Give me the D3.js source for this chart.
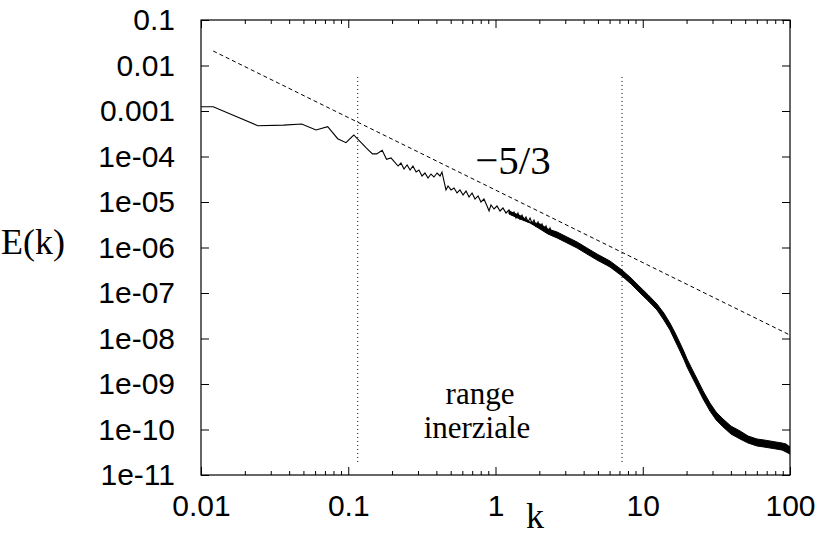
<!DOCTYPE html>
<html>
<head>
<meta charset="utf-8">
<script src="https://cdn.jsdelivr.net/npm/d3@7"></script>
<style>
  body { margin: 0; background: #fff; }
  svg { display: block; }
  .tick text { font-family: "Liberation Sans", Arial, Helvetica, sans-serif; font-size: 30px; fill: #000; }
  .serif { font-family: "Liberation Serif", "Times New Roman", Times, serif; fill: #000; }
</style>
</head>
<body>
<svg width="818" height="543"></svg>
<script>
// tick values / labels
var xTicks = [0.01, 0.1, 1, 10, 100];
var xTickLabels = ["0.01", "0.1", "1", "10", "100"];
var yTicks = [1e-1, 1e-2, 1e-3, 1e-4, 1e-5, 1e-6, 1e-7, 1e-8, 1e-9, 1e-10, 1e-11];
var yTickLabels = ["0.1", "0.01", "0.001", "1e-04", "1e-05", "1e-06", "1e-07", "1e-08", "1e-09", "1e-10", "1e-11"];

// energy spectrum, sparse part
var specK = [0.01, 0.0121, 0.0243, 0.0364, 0.0483, 0.0604, 0.0725, 0.0848, 0.0965, 0.109, 0.121, 0.133,
  0.146, 0.156, 0.170, 0.182, 0.195, 0.206,
  0.218, 0.228, 0.239, 0.251, 0.263, 0.275, 0.289, 0.302, 0.317, 0.332, 0.348, 0.365, 0.382, 0.401,
  0.420, 0.433, 0.447, 0.461, 0.476, 0.499, 0.523, 0.548, 0.574, 0.602, 0.631, 0.661, 0.693, 0.726,
  0.761, 0.797, 0.835, 0.876, 0.904, 0.932, 0.977, 1.024, 1.073, 1.124, 1.178, 1.235, 1.294, 1.335,
  1.378, 1.421, 1.467, 1.514, 1.562, 1.611, 1.663, 1.716, 1.770, 1.826, 1.884, 1.944, 2.006, 2.070,
  2.135, 2.203, 2.273, 2.345, 2.419];
var specE = [1.24e-3, 1.24e-3, 4.75e-4, 4.9e-4, 5.18e-4, 3.82e-4, 4.52e-4, 2.46e-4, 2.01e-4, 2.97e-4, 2.1e-4, 1.53e-4,
  1.14e-4, 1.14e-4, 1.37e-4, 8.67e-5, 9.27e-5, 7.6e-5,
  6.18e-5, 7.19e-5, 5.31e-5, 6.50e-5, 5.05e-5, 6.18e-5, 4.56e-5, 5.05e-5, 3.73e-5, 4.34e-5, 3.37e-5, 4.12e-5, 3.54e-5, 4.34e-5,
  3.73e-5, 4.56e-5, 2.89e-5, 1.84e-5, 2.25e-5, 1.84e-5, 2.03e-5, 1.58e-5, 1.84e-5, 1.43e-5, 1.75e-5, 1.29e-5, 1.58e-5, 1.16e-5,
  1.36e-5, 1.0e-5, 1.16e-5, 8.17e-6, 6.34e-6, 8.59e-6, 7.02e-6, 8.17e-6, 6.34e-6, 7.38e-6, 5.73e-6, 6.67e-6, 5.18e-6, 6.03e-6,
  4.45e-6, 5.73e-6, 4.23e-6, 5.18e-6, 4.02e-6, 4.68e-6, 3.64e-6, 4.45e-6, 3.46e-6, 4.02e-6, 2.97e-6, 3.64e-6, 2.68e-6, 3.29e-6,
  2.42e-6, 2.97e-6, 2.19e-6, 2.68e-6, 1.98e-6];

// dense part: upper and lower edge of the black band
var bandK = [1.235, 1.467, 1.716, 2.006, 2.27, 2.62, 3.06, 3.58, 4.18, 4.89, 5.99, 7.23, 8.32, 9.58, 10.9, 12.5, 13.9,
  15.3, 16.6, 17.9, 19.1, 20.0, 21.6, 23.4, 25.7, 28.6, 31.5, 35.1, 39.7, 45.8, 51.9, 59.7, 66.6, 73.2, 80.3, 88.3,
  94.0, 100];
var bandHi = [6.34e-6, 5.05e-6, 3.64e-6, 3.29e-6, 2.55e-6, 2.19e-6, 1.70e-6, 1.32e-6, 9.75e-7, 7.19e-7, 5.05e-7,
  3.20e-7, 2.14e-7, 1.36e-7, 9.04e-8, 5.73e-8, 3.64e-8, 2.19e-8, 1.32e-8, 7.96e-9, 5.05e-9, 3.54e-9, 2.14e-9, 1.29e-9,
  7.02e-10, 3.82e-10, 2.42e-10, 1.70e-10, 1.19e-10, 9.27e-11, 7.19e-11, 6.18e-11, 5.88e-11, 5.59e-11, 5.31e-11,
  5.05e-11, 4.80e-11, 4.12e-11];
var bandLo = [5.45e-6, 4.23e-6, 3.46e-6, 2.55e-6, 1.98e-6, 1.62e-6, 1.26e-6, 9.75e-7, 7.19e-7, 5.31e-7, 3.73e-7,
  2.36e-7, 1.58e-7, 1.0e-7, 6.67e-8, 4.23e-8, 2.55e-8, 1.54e-8, 8.81e-9, 5.31e-9, 3.37e-9, 2.36e-9, 1.43e-9, 8.59e-10,
  4.68e-10, 2.55e-10, 1.62e-10, 1.14e-10, 7.96e-11, 6.18e-11, 5.05e-11, 4.34e-11, 4.12e-11, 3.92e-11, 3.73e-11,
  3.54e-11, 3.20e-11, 2.89e-11];

// k^-5/3 reference line (end points)
var slopeK = [0.0121, 100];
var slopeE = [0.0208, 1.19e-8];

// limits of the inertial range
var rangeK = [0.116, 7.23];
var rangeTop = 5.6e-3;
var rangeBottom = 1.74e-11;

draw();

function draw() {
  var svg = d3.select("svg");
  var mLeft = 201, mRight = 790, mTop = 20, mBottom = 475;

  var x = d3.scaleLog().domain([0.01, 100]).range([mLeft, mRight]);
  var y = d3.scaleLog().domain([1e-11, 0.1]).range([mBottom, mTop]);

  svg.append("clipPath").attr("id", "plotClip")
    .append("rect").attr("x", mLeft).attr("y", mTop)
    .attr("width", mRight - mLeft).attr("height", mBottom - mTop);

  // axes, ticks pointing inside
  var xAxis = d3.axisBottom(x).tickValues(xTicks)
    .tickFormat(function (d, i) { return xTickLabels[i]; })
    .tickSizeInner(-8).tickSizeOuter(0).tickPadding(20);
  svg.append("g").attr("transform", "translate(0," + mBottom + ")").call(xAxis);

  var xTop = d3.axisTop(x).tickValues(xTicks).tickFormat("").tickSizeInner(-8).tickSizeOuter(0);
  svg.append("g").attr("transform", "translate(0," + mTop + ")").call(xTop);

  var yAxis = d3.axisLeft(y).tickValues(yTicks)
    .tickFormat(function (d, i) { return yTickLabels[i]; })
    .tickSizeInner(-8).tickSizeOuter(0).tickPadding(26);
  svg.append("g").attr("transform", "translate(" + mLeft + ",0)").call(yAxis);

  var yRight = d3.axisRight(y).tickValues(yTicks).tickFormat("").tickSizeInner(-8).tickSizeOuter(0);
  svg.append("g").attr("transform", "translate(" + mRight + ",0)").call(yRight);

  svg.selectAll(".domain").remove();
  svg.selectAll(".tick line").attr("stroke", "#000");

  // minor ticks on the k axis
  var minor = [];
  [0.01, 0.1, 1, 10].forEach(function (dec) {
    for (var m = 2; m <= 9; m++) minor.push(dec * m);
  });
  svg.append("g").selectAll("line").data(minor).enter().append("line")
    .attr("x1", function (d) { return x(d); }).attr("x2", function (d) { return x(d); })
    .attr("y1", mBottom).attr("y2", mBottom - 4).attr("stroke", "#000");
  svg.append("g").selectAll("line").data(minor).enter().append("line")
    .attr("x1", function (d) { return x(d); }).attr("x2", function (d) { return x(d); })
    .attr("y1", mTop).attr("y2", mTop + 4).attr("stroke", "#000");

  // frame
  svg.append("rect").attr("x", mLeft).attr("y", mTop)
    .attr("width", mRight - mLeft).attr("height", mBottom - mTop)
    .attr("fill", "none").attr("stroke", "#000").attr("stroke-width", 1.2);

  var plot = svg.append("g").attr("clip-path", "url(#plotClip)");

  // inertial range markers
  plot.selectAll("line.range").data(rangeK).enter().append("line")
    .attr("class", "range")
    .attr("x1", function (d) { return x(d); }).attr("x2", function (d) { return x(d); })
    .attr("y1", y(rangeTop)).attr("y2", y(rangeBottom))
    .attr("stroke", "#000").attr("stroke-width", 1).attr("stroke-dasharray", "1,3");

  // -5/3 line
  var slopeLine = d3.line()
    .x(function (d, i) { return x(slopeK[i]); })
    .y(function (d) { return y(d); });
  plot.append("path").attr("d", slopeLine(slopeE))
    .attr("fill", "none").attr("stroke", "#000").attr("stroke-width", 1)
    .attr("stroke-dasharray", "4,3");

  // spectrum
  var specLine = d3.line()
    .x(function (d, i) { return x(specK[i]); })
    .y(function (d) { return y(d); });
  plot.append("path").attr("d", specLine(specE))
    .attr("fill", "none").attr("stroke", "#000").attr("stroke-width", 1.1);

  var band = d3.area()
    .x(function (d, i) { return x(bandK[i]); })
    .y0(function (d, i) { return y(bandLo[i]); })
    .y1(function (d) { return y(d); });
  plot.append("path").attr("d", band(bandHi))
    .attr("fill", "#000").attr("stroke", "#000").attr("stroke-width", 1);

  // texts
  svg.append("text").attr("class", "serif").attr("x", 1).attr("y", 254)
    .attr("font-size", 36).text("E(k)");
  svg.append("text").attr("class", "serif").attr("x", 535).attr("y", 528)
    .attr("text-anchor", "middle").attr("font-size", 36).text("k");
  svg.append("text").attr("class", "serif").attr("x", 513).attr("y", 174)
    .attr("text-anchor", "middle").attr("font-size", 41).text("\u22125/3");
  svg.append("text").attr("class", "serif").attr("x", 480).attr("y", 404)
    .attr("text-anchor", "middle").attr("font-size", 31).text("range");
  svg.append("text").attr("class", "serif").attr("x", 477).attr("y", 438)
    .attr("text-anchor", "middle").attr("font-size", 31).text("inerziale");
}
</script>
</body>
</html>
